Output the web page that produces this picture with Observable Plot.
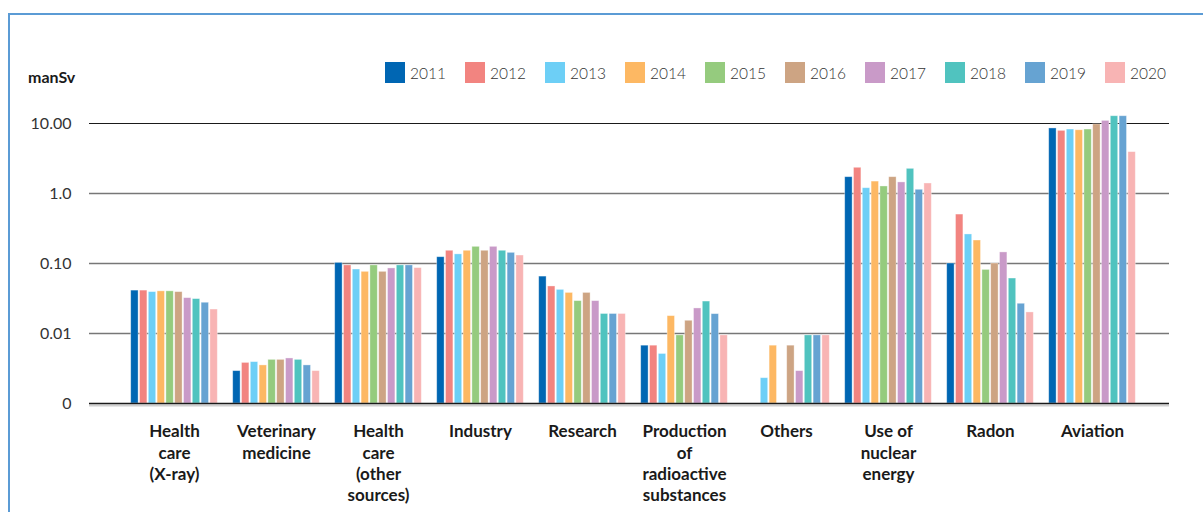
<!DOCTYPE html>
<html>
<head>
<meta charset="utf-8">
<script src="https://cdn.jsdelivr.net/npm/d3@7"></script>
<script src="https://cdn.jsdelivr.net/npm/@observablehq/plot@0.6"></script>
<style>
  html, body { margin: 0; padding: 0; background: #fff; }
  body { font-family: Lato, "Open Sans", sans-serif; }
  #wrap { position: relative; width: 1203px; height: 512px; overflow: hidden; }
  #frame { position: absolute; left: 8px; top: 13px; width: 1300px; height: 600px;
           border-left: 2px solid #5b9bd5; border-top: 2px solid #5b9bd5; box-sizing: border-box; }
  #header { position: relative; height: 100px; }
  #unit { position: absolute; left: 28px; top: 67px; font-size: 16px; font-weight: 700; color: #1a1a1a; }
  .item { position: absolute; top: 62px; height: 21px; display: flex; align-items: center; }
  .sw { width: 20px; height: 21px; margin-right: 5px; }
  .lab { font-size: 15.5px; font-weight: 300; color: #333; }
  #chart { position: relative; }
</style>
</head>
<body>
<div id="wrap">
  <div id="frame"></div>
  <div id="header"><div id="unit">manSv</div></div>
  <div id="chart"></div>
</div>
<script>
// Collective dose by source of exposure, 2011–2020 (manSv, log scale)
const categories = [
  "Health\ncare\n(X-ray)",
  "Veterinary\nmedicine",
  "Health\ncare\n(other\nsources)",
  "Industry",
  "Research",
  "Production\nof\nradioactive\nsubstances",
  "Others",
  "Use of\nnuclear\nenergy",
  "Radon",
  "Aviation"
];

const years = ["2011", "2012", "2013", "2014", "2015", "2016", "2017", "2018", "2019", "2020"];
const colors = ["#0066b3", "#f28480", "#6dcff6", "#fdb863", "#95cb7e",
                "#cda483", "#c99ac8", "#50c3bf", "#66a3d2", "#f8b4b4"];

// one value per category, in the order of `categories`; null = no dose reported
const v2011 = [0.041, 0.0029, 0.102, 0.123, 0.065, 0.0067, null,   1.71, 0.100, 8.5];
const v2012 = [0.041, 0.0038, 0.094, 0.152, 0.047, 0.0067, null,   2.33, 0.50,  7.85];
const v2013 = [0.039, 0.0039, 0.082, 0.135, 0.042, 0.0051, 0.0023, 1.19, 0.26,  8.2];
const v2014 = [0.040, 0.0035, 0.076, 0.152, 0.038, 0.0177, 0.0067, 1.48, 0.213, 8.0];
const v2015 = [0.040, 0.0042, 0.094, 0.173, 0.029, 0.0094, null,   1.26, 0.081, 8.2];
const v2016 = [0.039, 0.0042, 0.076, 0.152, 0.038, 0.0152, 0.0067, 1.71, 0.100, 9.7];
const v2017 = [0.032, 0.0044, 0.085, 0.173, 0.029, 0.0228, 0.0029, 1.44, 0.144, 10.9];
const v2018 = [0.031, 0.0042, 0.094, 0.152, 0.019, 0.0286, 0.0094, 2.25, 0.061, 12.7];
const v2019 = [0.0275, 0.0035, 0.094, 0.142, 0.019, 0.0189, 0.0094, 1.13, 0.0266, 12.7];
const v2020 = [0.022, 0.0029, 0.086, 0.130, 0.019, 0.0094, 0.0094, 1.39, 0.020, 3.9];
const seriesValues = [v2011, v2012, v2013, v2014, v2015, v2016, v2017, v2018, v2019, v2020];

const yTicks = [10, 1, 0.1, 0.01, 0.001];
const yTickLabels = ["10.00", "1.0", "0.10", "0.01", "0"];
const baseline = 0.001;

// legend
const header = document.getElementById("header");
years.forEach((yr, i) => {
  const item = document.createElement("div");
  item.className = "item";
  item.style.left = (385 + 80 * i) + "px";
  item.innerHTML = `<span class="sw" style="background:${colors[i]}"></span><span class="lab">${yr}</span>`;
  header.appendChild(item);
});

// bar geometry inside each category band
const bandStep = 102.2;
const barStep = 8.8;
const barWidth = 7.6;

const yearBars = years.map((yr, i) => {
  const rows = categories
    .map((c, k) => ({category: c, value: seriesValues[i][k]}))
    .filter(d => d.value != null);
  return Plot.rectY(rows, {
    x: "category",
    y1: () => baseline,
    y2: "value",
    fill: colors[i],
    stroke: "#ffffff",
    strokeOpacity: 0.45,
    strokeWidth: 0.8,
    dx: (i - 4.5) * barStep,
    insetLeft: (bandStep - barWidth) / 2,
    insetRight: (bandStep - barWidth) / 2
  });
});

const chart = Plot.plot({
  width: 1203,
  height: 412,
  marginTop: 23,
  marginBottom: 109,
  marginLeft: 89,
  marginRight: 34,
  style: {fontFamily: "Lato, 'Open Sans', sans-serif", fontSize: "16px", color: "#333", background: "transparent"},
  x: {
    domain: categories,
    padding: 0,
    insetLeft: 33,
    insetRight: 25,
    axis: null
  },
  y: {
    type: "log",
    domain: [baseline, 10],
    ticks: yTicks,
    tickFormat: d => yTickLabels[yTicks.indexOf(d)],
    tickSize: 0,
    tickPadding: 18,
    label: null,
    fontWeight: 300
  },
  marks: [
    Plot.ruleY([1, 0.1, 0.01], {stroke: "#777", strokeWidth: 1.6}),
    Plot.ruleY([10], {stroke: "#1a1a1a", strokeWidth: 1}),
    Plot.ruleY([baseline], {stroke: "#d0d0d0", strokeWidth: 2, dy: 2}),
    ...yearBars,
    Plot.ruleY([baseline], {stroke: "#1a1a1a", strokeWidth: 1.5}),
    Plot.text(categories, {
      x: d => d,
      y: () => baseline,
      text: d => d,
      dy: 19,
      lineAnchor: "top",
      lineHeight: 1.24,
      fontWeight: 700,
      fill: "#1a1a1a",
      fontSize: 17
    })
  ]
});

document.getElementById("chart").appendChild(chart);
</script>
</body>
</html>
